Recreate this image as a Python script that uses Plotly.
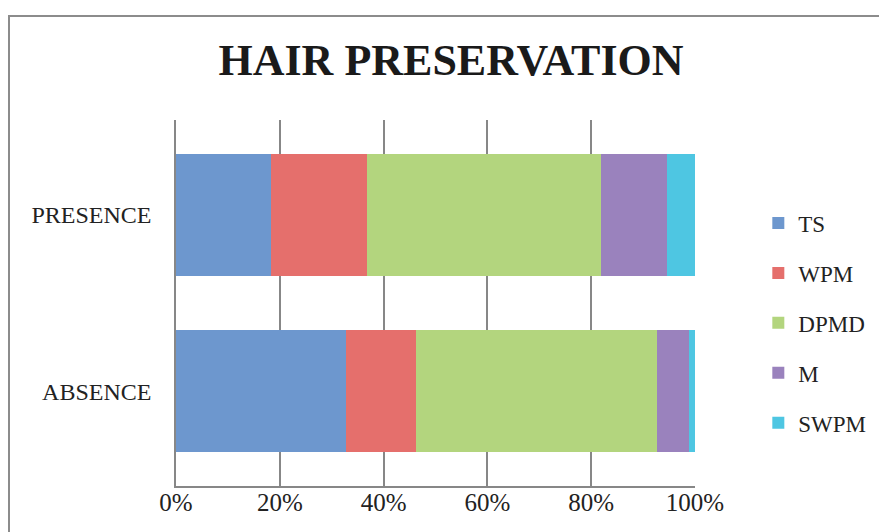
import plotly.graph_objects as go

# Share of each category within the two groups (percent)
groups = ["ABSENCE", "PRESENCE"]
series = ["TS", "WPM", "DPMD", "M", "SWPM"]
ts = [32.7, 18.3]
wpm = [13.5, 18.5]
dpmd = [46.4, 45.1]
m = [6.3, 12.8]
swpm = [1.1, 5.3]
tick_vals = [0, 20, 40, 60, 80, 100]
tick_text = ["0%", "20%", "40%", "60%", "80%", "100%"]

colors = ["#6D97CE", "#E56F6C", "#B3D57E", "#9A82BD", "#4EC6E2"]
values = [ts, wpm, dpmd, m, swpm]

SERIF = "Liberation Serif"

fig = go.Figure()
for name, vals, col in zip(series, values, colors):
    fig.add_trace(go.Bar(
        y=groups, x=vals, name=name, orientation="h",
        marker=dict(color=col, line=dict(width=0)),
        legendgroup=name,
        hoverinfo="x+y+name",
    ))

fig.update_layout(
    width=879, height=532,
    barmode="stack", bargap=0.31,
    paper_bgcolor="white", plot_bgcolor="white",
    margin=dict(l=176, r=184, t=120, b=46, autoexpand=False),
    font=dict(family=SERIF, color="#222222", size=22),
    title=dict(
        text="<b>HAIR PRESERVATION</b>",
        font=dict(family=SERIF, size=44, color="#1a1a1a"),
        xref="container", yref="container",
        x=451 / 879, y=1 - 60 / 532,
        xanchor="center", yanchor="middle",
    ),
    xaxis=dict(
        range=[0, 100], tickvals=tick_vals, ticktext=tick_text,
        showgrid=True, gridcolor="#878787", gridwidth=1.5,
        showline=True, linecolor="#878787", linewidth=1.5,
        zeroline=False, ticks="", tickfont=dict(size=25),
        ticklabelstandoff=-7, automargin=False,
    ),
    yaxis=dict(
        categoryorder="array", categoryarray=groups,
        range=[-0.537, 1.537],
        showline=True, linecolor="#878787", linewidth=1.5,
        ticks="", tickfont=dict(size=24),
        ticklabelstandoff=18, automargin=False,
    ),
    legend=dict(
        x=1.122, y=0.777, xanchor="left", yanchor="top",
        traceorder="grouped", tracegroupgap=17,
        font=dict(size=23), bgcolor="rgba(0,0,0,0)",
    ),
    shapes=[dict(
        type="rect", xref="paper", yref="paper",
        x0=(9 - 176) / 519, x1=1.4, y0=-0.2, y1=1 + (120 - 16) / 366,
        line=dict(color="#8C8C8C", width=2), fillcolor="rgba(0,0,0,0)",
        layer="below",
    )],
)

fig.write_html("out.html")
